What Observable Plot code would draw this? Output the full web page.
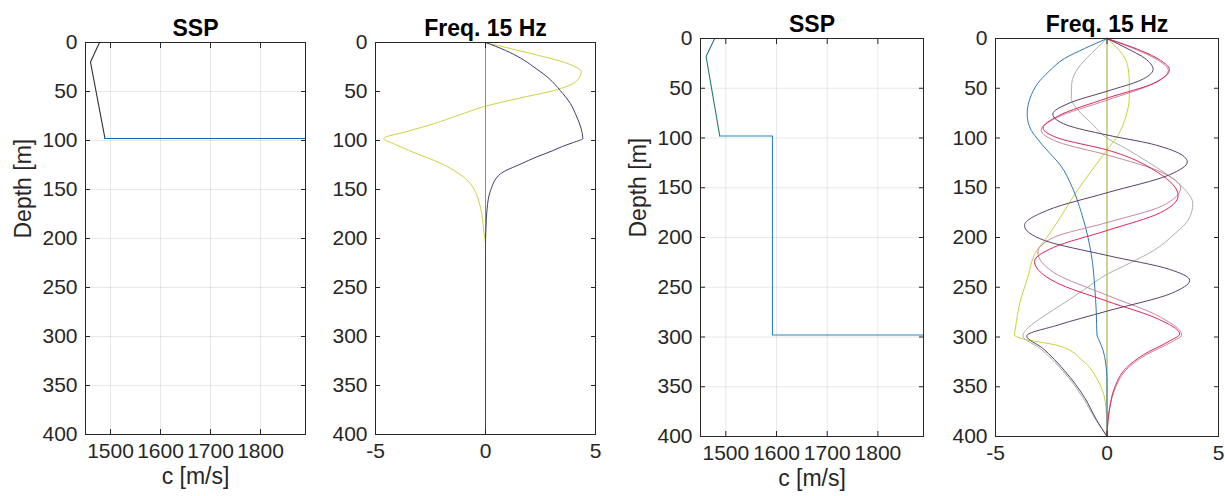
<!DOCTYPE html>
<html><head><meta charset="utf-8">
<script src="https://cdn.jsdelivr.net/npm/d3@7"></script>
<script src="https://cdn.jsdelivr.net/npm/@observablehq/plot@0.6"></script>
<style>
body{margin:0;background:#fff;width:1225px;height:496px;overflow:hidden;font-family:"Liberation Sans",Arial,sans-serif}
#wrap{position:relative;width:1225px;height:496px}
#wrap svg{position:absolute;top:0;overflow:visible}
</style></head><body><div id="wrap"></div>
<script>
// ---- ticks ----
const depthTicks = [0, 50, 100, 150, 200, 250, 300, 350, 400];
const cTicks = [1500, 1600, 1700, 1800];
const ampTicks = [-5, 0, 5];
const titles = ["SSP", "Freq. 15 Hz", "SSP", "Freq. 15 Hz"];
const xLabels = ["c [m/s]", null, "c [m/s]", null];
const yLabels = ["Depth [m]", null, "Depth [m]", null];

// ---- sound speed profiles ----
const ssp1WaterDepth = [0, 20, 98];
const ssp1WaterC = [1478, 1460, 1489];
const ssp1BottomDepth = [98, 98, 400];
const ssp1BottomC = [1489, 2000, 2000];

const ssp2WaterDepth = [0, 18, 98];
const ssp2WaterC = [1478, 1461, 1488];
const ssp2BottomDepth = [98, 98, 298, 298, 400];
const ssp2BottomC = [1488, 1592, 1592, 2000, 2000];

// ---- modes, case 1 ----
const c1m1Depth = [0, 8, 16, 25, 37, 49, 62, 76, 88, 98, 102, 106, 110, 117, 124, 134, 151, 170, 190, 210, 400];
const c1m1Val = [0, 0.9, 1.6, 2.2, 2.9, 3.4, 3.85, 4.15, 4.35, 4.42, 4.0, 3.5, 3.1, 2.3, 1.6, 0.68, 0.23, 0.07, 0.02, 0, 0];
const c1m2Depth = [0, 6, 12, 22, 30, 40, 49, 57, 65, 74, 83, 91, 98, 104, 110, 124, 142, 168, 192, 205];
const c1m2Val = [0, 1.1, 2.2, 3.8, 4.35, 4.1, 3.1, 1.5, 0, -1.2, -2.36, -3.6, -4.63, -4.1, -3.5, -1.97, -0.77, -0.23, -0.08, 0];
const c1m3Depth = [195, 245];
const c1m3Val = [0, 0];
const c1m4Depth = [245, 400];
const c1m4Val = [0, 0];

// ---- modes, case 2 ----
const c2m1Depth = [0, 10, 20, 33, 45, 60, 76, 90, 100, 112, 127, 150, 175, 200, 225, 250, 275, 298, 302, 313, 326, 343, 400];
const c2m1Val = [0, -1.0, -1.9, -2.6, -3.1, -3.45, -3.58, -3.45, -3.15, -2.7, -2.1, -1.55, -1.15, -0.85, -0.65, -0.55, -0.48, -0.45, -0.38, -0.18, -0.06, 0, 0];
const c2m2Depth = [0, 12, 22, 30, 45, 60, 78, 97, 112, 130, 155, 180, 200, 215, 240, 265, 290, 298, 301, 309, 324, 344, 361, 380, 400];
const c2m2Val = [0, 0.55, 0.85, 0.95, 1.0, 1.0, 0.85, 0.5, 0, -0.6, -1.4, -2.1, -2.7, -3.2, -3.55, -3.9, -4.1, -4.15, -3.9, -2.13, -1.08, -0.4, -0.11, -0.02, 0];
const c2m3Depth = [0, 15, 30, 45, 60, 72, 85, 100, 110, 125, 140, 152, 166, 182, 197, 213, 226, 237, 252, 267, 280, 290, 299, 311, 334, 361, 384, 400];
const c2m3Val = [0, -0.7, -1.3, -1.58, -1.6, -1.3, -0.7, 0, 0.8, 1.9, 2.9, 3.5, 3.85, 3.65, 3.0, 2.1, 1.0, 0, -1.0, -2.0, -2.9, -3.5, -3.77, -3.03, -1.98, -1.08, -0.48, 0];
const c2m4Depth = [0, 10, 20, 31, 42, 53, 65, 76, 87, 97, 106, 114, 124, 137, 155, 172, 188, 203, 218, 232, 243, 256, 274, 288, 299, 311, 334, 361, 384, 400];
const c2m4Val = [0, 0.9, 1.7, 2.07, 1.5, 0, -1.7, -2.43, -1.8, 0, 2.0, 3.1, 3.6, 2.8, 0, -2.6, -3.7, -2.8, 0, 2.8, 3.71, 2.9, 0, -2.2, -3.6, -2.9, -1.9, -1.0, -0.45, 0];
const c2m5Depth = [0, 12, 22, 31, 44, 60, 78, 90, 100, 112, 135, 158, 175, 193, 210, 224, 245, 264, 282, 297, 304, 318, 331, 351, 371, 400];
const c2m5Val = [0, 1.5, 2.4, 2.8, 2.2, 0, -2.2, -2.87, -2.2, 0, 2.3, 3.19, 2.4, 0, -2.4, -3.25, -2.3, 0, 2.3, 3.26, 2.81, 1.62, 0.87, 0.34, 0.12, 0];
const c2m6Depth = [0, 12, 22, 32, 45, 62, 80, 92, 104, 117, 135, 150, 168, 185, 200, 215, 235, 258, 280, 298, 305, 318, 331, 351, 371, 400];
const c2m6Val = [0, 1.4, 2.3, 2.75, 2.1, 0, -2.3, -2.95, -2.2, 0, 2.5, 3.3, 2.5, 0, -2.4, -3.1, -2.4, 0, 2.4, 3.35, 2.9, 1.75, 0.95, 0.38, 0.13, 0];
const c2m7Depth = [0, 400];
const c2m7Val = [0, 0];

const zip = (ds, vs) => ds.map((d, i) => ({depth: d, v: vs[i]}));

const FONT = "'Liberation Sans', Arial, Helvetica, sans-serif";
const AX = "#262626";

function panel({left, width, mt, mb, ml, mr, xDomain, xTicks, grid, title, xLabel, yLabel, marks}) {
  const svg = Plot.plot({
    width, height: 496,
    marginTop: mt, marginBottom: mb, marginLeft: ml, marginRight: mr,
    style: {fontSize: "21px", fontFamily: FONT, color: AX, background: "transparent", overflow: "visible"},
    x: {domain: xDomain},
    y: {domain: [0, 400], reverse: true},
    marks: [
      grid ? Plot.gridX(xTicks, {stroke: "#000", strokeOpacity: 0.09}) : null,
      grid ? Plot.gridY(depthTicks, {stroke: "#000", strokeOpacity: 0.09}) : null,
      ...marks,
      Plot.frame({stroke: AX, strokeWidth: 1}),
      Plot.axisX(xTicks, {tickSize: -5, tickPadding: 14, fontSize: 21, tickFormat: d => String(d), label: null}),
      Plot.axisX(xTicks, {anchor: "top", tickSize: -5, text: null, label: null}),
      Plot.axisY(depthTicks, {tickSize: -5, tickPadding: 13, fontSize: 21, tickFormat: d => String(d), label: null}),
      Plot.axisY(depthTicks, {anchor: "right", tickSize: -5, text: null, label: null}),
      Plot.text([title], {frameAnchor: "top", dy: -14, lineAnchor: "middle", fontWeight: "bold", fontSize: 23, fill: "#000"}),
      xLabel ? Plot.text([xLabel], {frameAnchor: "bottom", dy: 49, fontSize: 23, fill: AX}) : null,
      yLabel ? Plot.text([yLabel], {frameAnchor: "left", dx: -62, rotate: -90, fontSize: 23, fill: AX}) : null
    ]
  });
  svg.style.left = left + "px";
  document.getElementById("wrap").appendChild(svg);
}

const lineOpts = (stroke, w = 1) => ({x: "v", y: "depth", stroke, strokeWidth: w, curve: "monotone-y"});
const sspOpts = (stroke) => ({x: "v", y: "depth", stroke, strokeWidth: 1.1, clip: true});

panel({left: 0, width: 320, mt: 42, mb: 62, ml: 85, mr: 15, xDomain: [1450, 1890], xTicks: cTicks, grid: true,
  title: titles[0], xLabel: xLabels[0], yLabel: yLabels[0],
  marks: [
    Plot.line(zip(ssp1WaterDepth, ssp1WaterC), sspOpts("#333333")),
    Plot.line(zip(ssp1BottomDepth, ssp1BottomC), sspOpts("#0072BD"))
  ]});

panel({left: 310, width: 300, mt: 42, mb: 62, ml: 65, mr: 15, xDomain: [-5, 5], xTicks: ampTicks, grid: false,
  title: titles[1], xLabel: xLabels[1], yLabel: yLabels[1],
  marks: [
    Plot.ruleX([0], {stroke: "#8a8a8a", strokeWidth: 1}),
    Plot.line(zip(c1m3Depth, c1m3Val), lineOpts("#e0802a")),
    Plot.line(zip(c1m4Depth, c1m4Val), lineOpts("#b49cc4")),
    Plot.line(zip(c1m2Depth, c1m2Val), lineOpts("#cfd040")),
    Plot.line(zip(c1m1Depth, c1m1Val), lineOpts("#3c3e70"))
  ]});

panel({left: 615, width: 320, mt: 38, mb: 60, ml: 85, mr: 12, xDomain: [1450, 1890], xTicks: cTicks, grid: true,
  title: titles[2], xLabel: xLabels[2], yLabel: yLabels[2],
  marks: [
    Plot.line(zip(ssp2WaterDepth, ssp2WaterC), sspOpts("#267a70")),
    Plot.line(zip(ssp2BottomDepth, ssp2BottomC), sspOpts("#2a86c4"))
  ]});

panel({left: 925, width: 300, mt: 38, mb: 60, ml: 70, mr: 7, xDomain: [-5, 5], xTicks: ampTicks, grid: false,
  title: titles[3], xLabel: xLabels[3], yLabel: yLabels[3],
  marks: [
    Plot.line(zip(c2m7Depth, c2m7Val), lineOpts("#9aa52a")),
    Plot.line(zip(c2m3Depth, c2m3Val), lineOpts("#aab2a2")),
    Plot.line(zip(c2m2Depth, c2m2Val), lineOpts("#c9d23a")),
    Plot.line(zip(c2m1Depth, c2m1Val), lineOpts("#2f78b8")),
    Plot.line(zip(c2m6Depth, c2m6Val), lineOpts("#c88a98")),
    Plot.line(zip(c2m5Depth, c2m5Val), lineOpts("#e0245c")),
    Plot.line(zip(c2m4Depth, c2m4Val), lineOpts("#5a3f6c"))
  ]});
</script></body></html>
